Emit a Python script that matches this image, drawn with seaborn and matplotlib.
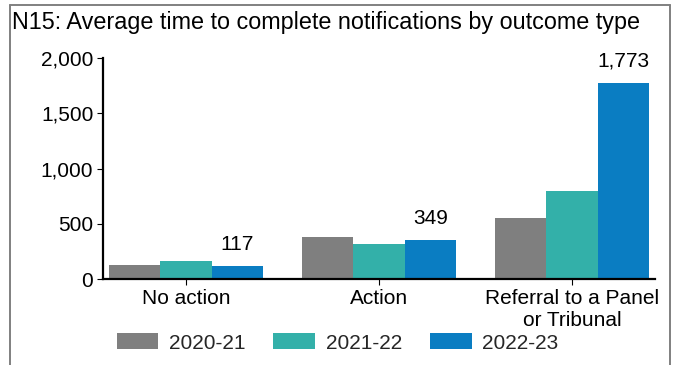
import matplotlib
matplotlib.use("Agg")
import matplotlib.pyplot as plt
from matplotlib.lines import Line2D
import seaborn as sns
import pandas as pd

categories = ["No action", "Action", "Referral to a Panel\nor Tribunal"]
years = ["2020-21", "2021-22", "2022-23"]
values_2020_21 = [130, 380, 552]
values_2021_22 = [162, 317, 796]
values_2022_23 = [117, 349, 1773]
y_ticks = [0, 500, 1000, 1500, 2000]
colors = ["#7F7F7F", "#33B0A9", "#0A7DC2"]

rows = []
for year, vals in zip(years, [values_2020_21, values_2021_22, values_2022_23]):
    for cat, v in zip(categories, vals):
        rows.append({"Outcome": cat, "Year": year, "Days": v})
df = pd.DataFrame(rows)

sns.set_theme(style="ticks")
plt.rcParams["font.family"] = ["Liberation Sans", "DejaVu Sans"]

FS = 15

fig = plt.figure(figsize=(6.75, 3.65), dpi=100)
ax = fig.add_axes([0.1526, 0.2356, 0.818, 0.605])

sns.barplot(data=df, x="Outcome", y="Days", hue="Year", order=categories,
            hue_order=years, palette=colors, width=0.8, saturation=1,
            edgecolor="none", linewidth=0, ax=ax, legend=True)

ax.set_xlim(-0.43, 2.43)
ax.set_ylim(0, 2000)
ax.set_yticks(y_ticks)
ax.set_yticklabels([f"{t:,}" for t in y_ticks])
ax.set_xlabel("")
ax.set_ylabel("")
for s in ["top", "right"]:
    ax.spines[s].set_visible(False)
for s in ["left", "bottom"]:
    ax.spines[s].set_color("black")
    ax.spines[s].set_linewidth(1.6)
ax.tick_params(axis="both", labelsize=FS, colors="black", length=4, width=0.8,
               direction="out")
ax.tick_params(axis="x", pad=3)
ax.tick_params(axis="y", pad=3)

# value labels on the latest year only
last = ax.containers[2]
ax.bar_label(last, labels=[f"{v:,}" for v in values_2022_23], padding=9,
             fontsize=FS, color="black")

leg = ax.legend(loc="center", bbox_to_anchor=(0.5, 1 - 343 / 365),
                bbox_transform=fig.transFigure, ncol=3, frameon=False,
                fontsize=FS, handlelength=2.0, handleheight=0.8,
                handletextpad=0.5, columnspacing=1.35)

fig.text(12 / 675, 1 - 22 / 365,
         "N15: Average time to complete notifications by outcome type",
         fontsize=16.8, ha="left", va="center", color="black")

# outer frame
frame_kw = dict(color="#808080", linewidth=1.4, transform=fig.transFigure)
xl, xr, yt = 10 / 675, 670 / 675, 1 - 5 / 365
fig.add_artist(Line2D([xl, xl], [0, yt], **frame_kw))
fig.add_artist(Line2D([xr, xr], [0, yt], **frame_kw))
fig.add_artist(Line2D([xl, xr], [yt, yt], **frame_kw))

fig.savefig("out.png", dpi=100)
